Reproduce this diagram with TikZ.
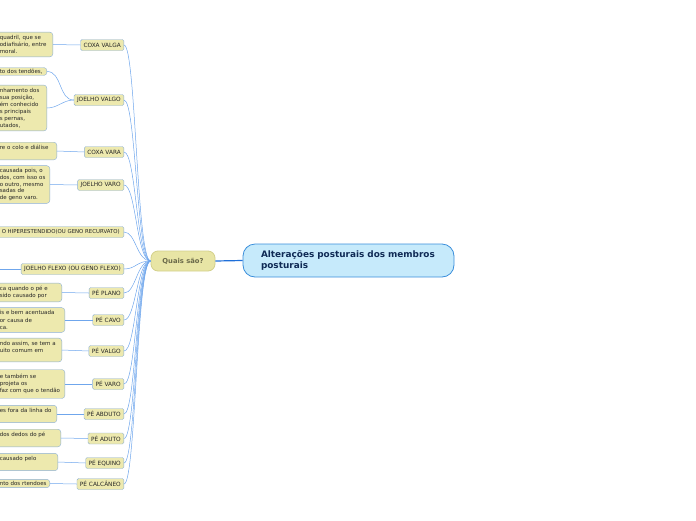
\documentclass[tikz,border=0pt]{standalone}
\usepackage{fontspec}
\setmainfont{DejaVu Sans}
\usetikzlibrary{positioning}

\definecolor{mainfill}{HTML}{C6EAFB}
\definecolor{mainline}{HTML}{3A8EDB}
\definecolor{mainink}{HTML}{0F2A55}
\definecolor{hubfill}{HTML}{E8E5A5}
\definecolor{hubline}{HTML}{D3D08B}
\definecolor{hubink}{HTML}{6B6A4A}
\definecolor{topicfill}{HTML}{EDE9AE}
\definecolor{topicline}{HTML}{8CAFD6}
\definecolor{linkblue}{HTML}{6FA6EC}
\definecolor{mainlink}{HTML}{1E6FD9}

\begin{document}
\begin{tikzpicture}[x=1pt,y=-1pt]
        % Estilos del mapa
        \tikzset{
          tema/.style={fill=mainfill, draw=mainline, thick, rounded corners=12pt,
            text=mainink, font=\fontsize{8.9}{11}\selectfont\bfseries,
            align=left, text width=175pt, inner xsep=18pt, minimum height=33pt},
          pregunta/.style={fill=hubfill, draw=hubline, thick, rounded corners=7pt,
            text=hubink, font=\fontsize{6.8}{7.5}\selectfont\bfseries,
            minimum width=64pt, minimum height=20pt},
          rama/.style={fill=topicfill, draw=topicline, rounded corners=1.5pt,
            text=black!85, font=\fontsize{5.8}{6.5}\selectfont,
            inner xsep=3pt, inner ysep=0pt, minimum height=11pt, anchor=east},
          hoja/.style={fill=topicfill, draw=topicline, rounded corners=3pt,
            text=black!85, font=\fontsize{5.5}{7.2}\selectfont,
            align=left, inner xsep=3pt, inner ysep=3pt, anchor=east},
          enlace/.style={draw=linkblue, line width=0.5pt},
        }
        \useasboundingbox (0,0) rectangle (696,520);
        \clip (0,0) rectangle (696,520);

        % --- CENTRO ---
        \node[tema] (tema) at (348.5,260.5) {Alterações posturais dos membros posturais};
        \node[pregunta] (quais) at (183,261) {Quais são?};
        \draw[mainlink, line width=1.2pt] (quais.east) -- (tema.west);

        % --- RAMAS ---
        \node[rama] (coxavalga) at (124,45) {COXA VALGA};
        \node[rama] (joelhovalgo) at (124,100) {JOELHO VALGO};
        \node[rama] (coxavara) at (124,152) {COXA VARA};
        \node[rama] (joelhovaro) at (124,185) {JOELHO VARO};
        \node[rama, font=\fontsize{5.4}{6.5}\selectfont, inner xsep=4pt] (hiper) at (124,232) {O HIPERESTENDIDO(OU GENO RECURVATO)};
        \node[rama] (flexo) at (124,269) {JOELHO FLEXO (OU GENO FLEXO)};
        \node[rama] (plano) at (124,293) {PÉ PLANO};
        \node[rama] (cavo) at (124,320) {PÉ CAVO};
        \node[rama] (pevalgo) at (124,351) {PÉ VALGO};
        \node[rama] (pevaro) at (124,384) {PÉ VARO};
        \node[rama] (abduto) at (124,414) {PÉ ABDUTO};
        \node[rama] (aduto) at (124,438.5) {PÉ ADUTO};
        \node[rama] (equino) at (124,463) {PÉ EQUINO};
        \node[rama] (calcaneo) at (124,484) {PÉ CALCÂNEO};

        % ramas hacia la pregunta
        \foreach \r in {coxavalga,joelhovalgo,coxavara,joelhovaro,hiper,flexo,plano,
                        cavo,pevalgo,pevaro,abduto,aduto,equino,calcaneo}
          \draw[enlace] (\r.east) .. controls +(12,0) and +(-14,0) .. (quais.west);

        % --- HOJAS ---
        \node[hoja, text width=50pt] (h1) at (53,44.5) {quadril, que se\\odiafisário, entre\\moral.};
        \node[hoja, text width=44pt, inner ysep=1.5pt] (h2a) at (47,71.5) {to dos tendões,};
        \node[hoja, text width=44pt, font=\fontsize{5.5}{7}\selectfont] (h2b) at (47,108) {nhamento dos\\sua posição,\\ém conhecido\\s principais\\s pernas,\\utados,};
        \node[hoja, text width=54pt] (h3) at (57,151) {re o colo e diálise\\~};
        \node[hoja, text width=47pt, font=\fontsize{5.5}{6.6}\selectfont] (h4) at (50,184.5) {causada pois, o\\dos, com isso os\\o outro, mesmo\\sadas de\\de geno varo.};
        \coordinate (h6) at (-5,269);
        \node[hoja, text width=59pt] (h7) at (62,292.5) {ca quando o pé e\\sido causado por};
        \node[hoja, text width=62pt] (h8) at (65,320) {is e bem acentuada\\or causa de\\ca.};
        \node[hoja, text width=59pt, font=\fontsize{5.5}{6.8}\selectfont] (h9) at (62,350) {ndo assim, se tem a\\uito comum em\\~};
        \node[hoja, text width=62pt, inner ysep=4.5pt] (h10) at (65,384) {e também se\\projeta os\\faz com que o tendão};
        \node[hoja, text width=54pt] (h11) at (57,414) {es fora da linha do\\~};
        \node[hoja, text width=58pt] (h12) at (61,438) {dos dedos do pé\\~};
        \node[hoja, text width=55pt] (h13) at (58,462) {causado pelo\\~};
        \node[hoja, text width=47pt, inner ysep=2pt] (h14) at (50,483.5) {nto dos rtendoes};

        % hojas hacia las ramas
        \draw[enlace] (h1.east) -- (coxavalga.west);
        \draw[enlace] (h2a.east) to[out=0,in=180] (joelhovalgo.west);
        \draw[enlace] (h2b.east) to[out=0,in=180] (joelhovalgo.west);
        \draw[enlace] (h3.east) -- (coxavara.west);
        \draw[enlace] (h4.east) -- (joelhovaro.west);
        \draw[enlace] (h6) -- (flexo.west);
        \draw[enlace] (h7.east) -- (plano.west);
        \draw[enlace] (h8.east) -- (cavo.west);
        \draw[enlace] (h9.east) -- (pevalgo.west);
        \draw[enlace] (h10.east) -- (pevaro.west);
        \draw[enlace] (h11.east) -- (abduto.west);
        \draw[enlace] (h12.east) -- (aduto.west);
        \draw[enlace] (h13.east) -- (equino.west);
        \draw[enlace] (h14.east) -- (calcaneo.west);
    \end{tikzpicture}
\end{document}
